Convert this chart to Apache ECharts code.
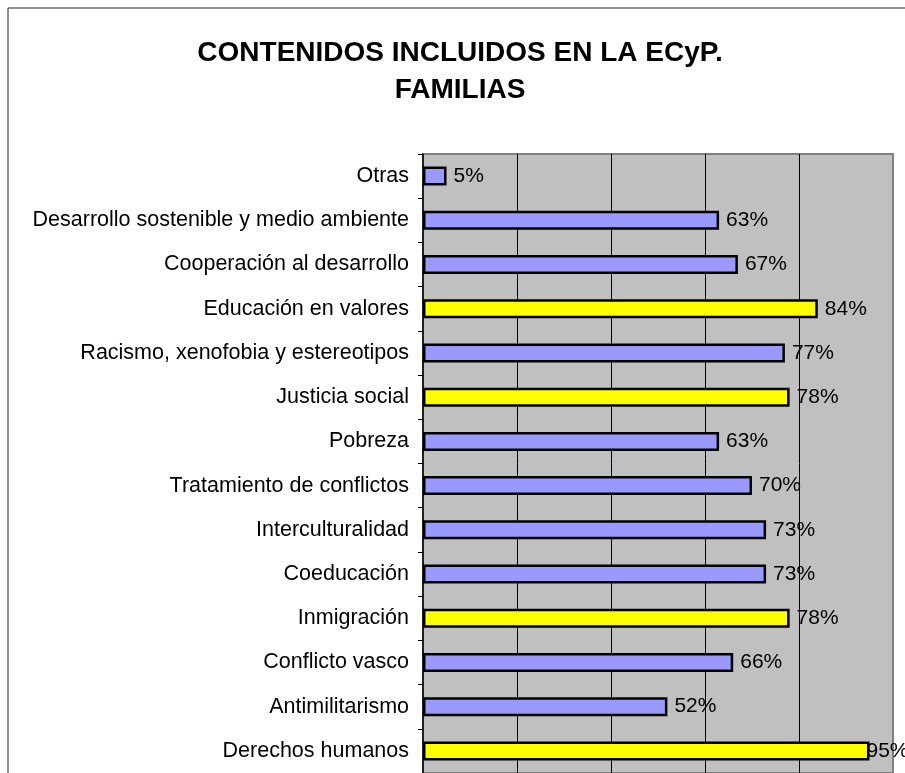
<!DOCTYPE html>
<html>
<head>
<meta charset="utf-8">
<script src="https://cdn.jsdelivr.net/npm/echarts@6/dist/echarts.min.js"></script>
<style>
  html, body { margin: 0; padding: 0; background: #fff; }
  #chart { width: 905px; height: 773px; }
</style>
</head>
<body>
<div id="chart"></div>
<script>
// categories, listed top to bottom as in the picture
var categories = [
    "Otras",
    "Desarrollo sostenible y medio ambiente",
    "Cooperación al desarrollo",
    "Educación en valores",
    "Racismo, xenofobia y estereotipos",
    "Justicia social",
    "Pobreza",
    "Tratamiento de conflictos",
    "Interculturalidad",
    "Coeducación",
    "Inmigración",
    "Conflicto vasco",
    "Antimilitarismo",
    "Derechos humanos"
];
var values = [5, 63, 67, 84, 77, 78, 63, 70, 73, 73, 78, 66, 52, 95];
var highlighted = ["Educación en valores", "Justicia social", "Inmigración", "Derechos humanos"];
var xTicks = [0, 20, 40, 60, 80, 100];

var font = "Arial, 'Liberation Sans', sans-serif";

var barData = values.map(function (v, i) {
    var hi = highlighted.indexOf(categories[i]) >= 0;
    var item = {
        value: v,
        itemStyle: { color: hi ? "#ffff00" : "#9999ff" }
    };
    // Excel squeezes the last label back onto the bar end
    if (v > 90) item.label = { distance: -3 };
    return item;
});

var chart = echarts.init(document.getElementById("chart"));
chart.setOption({
    animation: false,
    backgroundColor: "#fff",
    textStyle: { fontFamily: font },
    title: {
        text: "CONTENIDOS INCLUIDOS EN LA ECyP.\nFAMILIAS",
        left: 455,
        top: 30,
        textAlign: "center",
        textStyle: {
            fontFamily: font,
            fontSize: 28,
            fontWeight: "bold",
            color: "#000",
            lineHeight: 37
        }
    },
    graphic: [{
        type: "rect",
        shape: { x: 8, y: 8, width: 920, height: 800 },
        style: { fill: null, stroke: "#222", lineWidth: 1 },
        silent: true
    }],
    grid: {
        left: 423,
        right: 12,
        top: 154,
        bottom: -7,
        show: true,
        backgroundColor: "#c0c0c0",
        borderColor: "#808080",
        borderWidth: 2
    },
    xAxis: {
        type: "value",
        min: xTicks[0],
        max: xTicks[xTicks.length - 1],
        interval: xTicks[1] - xTicks[0],
        axisLine: { show: false },
        axisTick: { show: false },
        axisLabel: { show: false },
        splitLine: {
            show: true,
            showMinLine: false,
            showMaxLine: false,
            lineStyle: { color: "#000", width: 1 }
        }
    },
    yAxis: {
        type: "category",
        inverse: true,
        data: categories,
        axisLine: { show: true, lineStyle: { color: "#000", width: 1.5 } },
        axisTick: { show: true, length: 5, lineStyle: { color: "#000" } },
        axisLabel: {
            margin: 14,
            color: "#000",
            fontSize: 21.5,
            fontFamily: font
        }
    },
    series: [{
        type: "bar",
        data: barData,
        barWidth: 19,
        itemStyle: { borderColor: "#000", borderWidth: 2.5 },
        label: {
            show: true,
            position: "right",
            distance: 7,
            color: "#000",
            fontSize: 21,
            fontFamily: font,
            formatter: "{c}%"
        }
    }]
});
</script>
</body>
</html>
